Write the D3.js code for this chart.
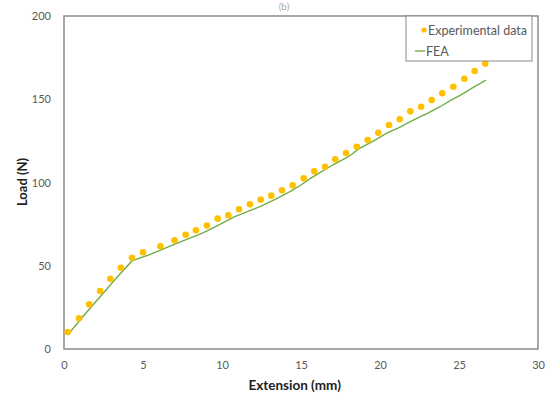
<!DOCTYPE html>
<html>
<head>
<meta charset="utf-8">
<script src="https://cdn.jsdelivr.net/npm/d3@7"></script>
<style>
  body { margin: 0; background: #fff; }
  svg text { font-family: Lato, "Open Sans", sans-serif; }
</style>
</head>
<body>
<div id="vis"></div>
<script>
// Load vs extension: experiment against FEA

var expExtension = [0.23, 0.95, 1.6, 2.28, 2.93, 3.6, 4.3, 5.0, 6.1, 7.0, 7.7, 8.35, 9.05, 9.73,
  10.4, 11.08, 11.77, 12.45, 13.12, 13.8, 14.47, 15.17, 15.84, 16.52, 17.17, 17.85, 18.53,
  19.22, 19.89, 20.57, 21.25, 21.92, 22.6, 23.27, 23.94, 24.64, 25.34, 25.99, 26.66];
var expLoad = [10.2, 18.4, 26.8, 34.8, 42.2, 48.8, 54.8, 58.1, 61.7, 65.3, 68.6, 71.3, 74.1, 78.3,
  80.3, 83.9, 86.9, 89.7, 92.1, 95.3, 98.3, 102.5, 106.7, 109.5, 113.9, 117.7, 121.5,
  125.5, 129.9, 134.5, 138.0, 142.8, 145.5, 149.5, 153.6, 157.5, 162.3, 167.0, 171.4];

var feaExtension = [0.23, 1.2, 2.3, 3.3, 4.3, 5.5, 6.9, 8.0, 8.8, 9.9, 10.7, 11.6, 12.4, 13.4,
  14.3, 15.0, 15.6, 17.0, 18.0, 18.7, 19.6, 20.4, 21.2, 22.1, 23.0, 23.8, 24.5, 25.1, 25.8, 26.7];
var feaLoad = [8.4, 19.5, 31.5, 42.5, 52.9, 57.0, 62.5, 66.8, 69.8, 75.0, 79.0, 82.5, 85.5, 90.0,
  94.5, 98.5, 102.5, 110.5, 115.5, 120.5, 125.0, 129.5, 133.0, 137.5, 141.5, 145.5, 149.5,
  152.5, 156.5, 161.5];

var xTicks = [0, 5, 10, 15, 20, 25, 30];
var yTicks = [0, 50, 100, 150, 200];
var seriesNames = ['Experimental data', 'FEA'];

var W = 552, H = 394;
var margin = { top: 16, right: 14, bottom: 45, left: 64 };
var width = W - margin.left - margin.right;
var height = H - margin.top - margin.bottom;

var svg = d3.select('#vis').append('svg')
  .attr('width', W)
  .attr('height', H);

// panel title, squeezed in above the frame
svg.append('text')
  .attr('x', 284).attr('y', 10)
  .attr('text-anchor', 'middle')
  .attr('font-size', 10).attr('fill', '#aaa')
  .text('(b)');

var vis = svg.append('g')
  .attr('transform', `translate(${margin.left},${margin.top})`);

var xScale = d3.scaleLinear().domain([0, 30]).range([0, width]);
var yScale = d3.scaleLinear().domain([0, 200]).range([height, 0]);

// plot frame
vis.append('rect')
  .attr('width', width).attr('height', height)
  .attr('fill', 'none')
  .attr('stroke', '#8a8a8a').attr('stroke-width', 1.5);

// axes (labels only, frame is drawn above)
var xAxis = vis.append('g')
  .attr('transform', `translate(0,${height})`)
  .call(d3.axisBottom(xScale).tickValues(xTicks).tickSize(0).tickPadding(12));
var yAxis = vis.append('g')
  .call(d3.axisLeft(yScale).tickValues(yTicks).tickSize(0).tickPadding(13));
[xAxis, yAxis].forEach(function (g) {
  g.select('.domain').remove();
  g.selectAll('text').attr('font-size', 11).attr('fill', '#595959')
    .style('font-family', 'Lato, "Open Sans", sans-serif');
});

// axis titles
vis.append('text')
  .attr('x', xScale(14.6)).attr('y', height + 41)
  .attr('text-anchor', 'middle')
  .attr('font-size', 13.5).attr('font-weight', 'bold').attr('fill', '#222')
  .text('Extension (mm)');
vis.append('text')
  .attr('transform', 'rotate(-90)')
  .attr('x', -(182 - margin.top)).attr('y', -37)
  .attr('text-anchor', 'middle')
  .attr('font-size', 13).attr('font-weight', 'bold').attr('fill', '#222')
  .text('Load (N)');

// FEA line
var line = d3.line()
  .x(function (d) { return xScale(d[0]); })
  .y(function (d) { return yScale(d[1]); });
vis.append('path')
  .datum(d3.zip(feaExtension, feaLoad))
  .attr('d', line)
  .attr('fill', 'none')
  .attr('stroke', '#70ad47').attr('stroke-width', 1.4);

// experimental points
vis.selectAll('circle.exp')
  .data(d3.zip(expExtension, expLoad))
  .join('circle')
  .attr('class', 'exp')
  .attr('cx', function (d) { return xScale(d[0]); })
  .attr('cy', function (d) { return yScale(d[1]); })
  .attr('r', 3.3)
  .attr('fill', '#ffc000');

// legend box, top right
var legend = vis.append('g')
  .attr('transform', `translate(${406 - margin.left},0)`);
legend.append('rect')
  .attr('width', 126).attr('height', 45)
  .attr('fill', '#fff')
  .attr('stroke', '#8a8a8a').attr('stroke-width', 1);
legend.append('circle')
  .attr('cx', 18).attr('cy', 14).attr('r', 2.6)
  .attr('fill', '#ffc000');
legend.append('line')
  .attr('x1', 9).attr('x2', 19).attr('y1', 35).attr('y2', 35)
  .attr('stroke', '#70ad47').attr('stroke-width', 1.4);
legend.selectAll('text.lab')
  .data(seriesNames)
  .join('text')
  .attr('class', 'lab')
  .attr('x', function (d, i) { return i === 0 ? 22 : 20; })
  .attr('y', function (d, i) { return i === 0 ? 18.5 : 39.5; })
  .attr('font-size', 12.5).attr('fill', '#595959')
  .text(function (d) { return d; });
</script>
</body>
</html>
